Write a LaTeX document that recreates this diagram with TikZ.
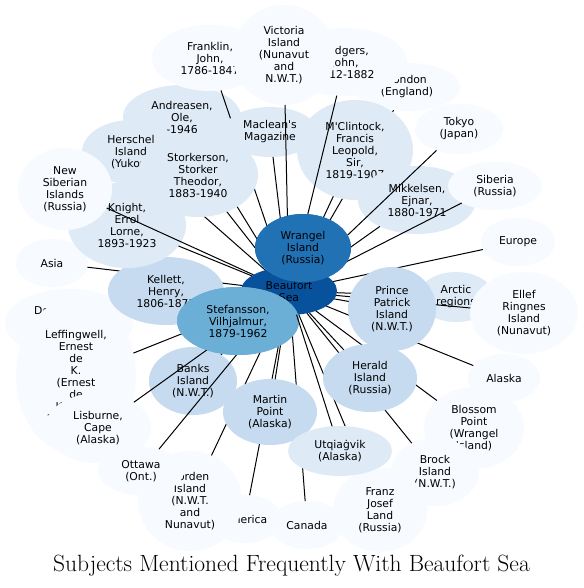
\documentclass[tikz,border=0pt]{standalone}
\usepackage{fontspec}
\newfontfamily\bubfont{DejaVu Sans}
\usetikzlibrary{shapes.geometric}
\definecolor{c0}{HTML}{F7FBFF}
\definecolor{c1}{HTML}{DEEBF7}
\definecolor{c2}{HTML}{C6DBEF}
\definecolor{c3}{HTML}{6BAED6}
\definecolor{c4}{HTML}{2171B5}
\definecolor{c5}{HTML}{08519C}
\tikzset{
  bub/.style={ellipse, inner sep=0pt, outer sep=0pt, draw=none},
  txt/.style={font=\bubfont\fontsize{10.8}{12}\selectfont, align=center, inner sep=0pt, text=black},
  edgeline/.style={draw=black, line width=1pt},
  titletext/.style={font=\fontsize{23.5}{26}\selectfont, inner sep=0pt}
}
\newcommand\bnode[7]{%
  \node[bub, minimum width={2*#4pt}, minimum height={2*#5pt}, fill=#6] (#1) at (#2,#3) {};
  \node[txt] (#1-t) at (#1.center) {#7};}
\newcommand\bedge[1]{\draw[edgeline] (bf) -- (#1);}
\begin{document}
\begin{tikzpicture}[x=1pt,y=-1pt]
\useasboundingbox (0,0) rectangle (583,588);
\fill[white] (0,0) rectangle (583,588);
\bnode{al}{504}{378}{36}{24}{c0}{Alaska}
\bnode{bf}{289}{291}{48}{24}{c5}{Beaufort\\Sea}
\bedge{al}
\bnode{am}{245}{519}{37}{24}{c0}{America}\bedge{am}
\bnode{an}{182}{117}{59}{32}{c1}{Andreasen,\\Ole,\\-1946}\bedge{an}
\bnode{ar}{456}{297}{38}{25}{c1}{Arctic\\regions}\bedge{ar}
\bnode{as}{52}{263}{36}{24}{c0}{Asia}\bedge{as}
\bnode{ba}{193}{381}{44}{34}{c2}{Banks\\Island\\(N.W.T.)}\bedge{ba}
\bnode{bl}{474}{428}{50}{41}{c0}{Blossom\\Point\\(Wrangel\\Island)}\bedge{bl}
\bnode{bo}{190}{501}{52}{50}{c0}{Borden\\Island\\(N.W.T.\\and\\Nunavut)}\bedge{bo}
\bnode{br}{435}{472}{44}{34}{c0}{Brock\\Island\\(N.W.T.)}\bedge{br}
\bnode{ca}{307}{525}{37}{24}{c0}{Canada}\bedge{ca}
\bnode{de}{69}{323}{64}{34}{c0}{Demarcation\\Point\\(Alaska)}\bedge{de}
\bnode{el}{524}{313}{54}{41}{c0}{Ellef\\Ringnes\\Island\\(Nunavut)}\bedge{el}
\bnode{eu}{518}{242}{37}{24}{c0}{Europe}\bedge{eu}
\bnode{fr}{210}{58}{58}{33}{c0}{Franklin,\\John,\\1786-1847}\bedge{fr}
\bnode{fj}{380}{510}{47}{42}{c0}{Franz\\Josef\\Land\\(Russia)}\bedge{fj}
\bnode{he}{370}{378}{47}{34}{c2}{Herald\\Island\\(Russia)}\bedge{he}
\bnode{hs}{131}{152}{49}{32}{c1}{Herschel\\Island\\(Yukon)}\bedge{hs}
\bnode{ke}{166}{291}{58}{34}{c2}{Kellett,\\Henry,\\1806-1875}\bedge{ke}
\bnode{kn}{127}{225}{59}{43}{c1}{Knight,\\Errol\\Lorne,\\1893-1923}\bedge{kn}
\bnode{le}{76}{376}{60}{78}{c0}{Leffingwell,\\Ernest\\de\\K.\\(Ernest\\de\\Koven),\\1875-1971}\bedge{le}
\bnode{li}{98}{428}{53}{35}{c0}{Lisburne,\\Cape\\(Alaska)}\bedge{li}
\bnode{lo}{407}{87}{53}{24}{c0}{London\\(England)}\bedge{lo}
\bnode{mc}{355}{150}{58}{50}{c1}{M'Clintock,\\Francis\\Leopold,\\Sir,\\1819-1907}\bedge{mc}
\bnode{ma}{270}{132}{47}{25}{c1}{Maclean's\\Magazine}\bedge{ma}
\bnode{mp}{270}{412}{47}{33}{c2}{Martin\\Point\\(Alaska)}\bedge{mp}
\bnode{mi}{417}{200}{59}{34}{c1}{Mikkelsen,\\Ejnar,\\1880-1971}\bedge{mi}
\bnode{ns}{65}{189}{47}{41}{c0}{New\\Siberian\\Islands\\(Russia)}\bedge{ns}
\bnode{ot}{141}{471}{43}{24}{c0}{Ottawa\\(Ont.)}\bedge{ot}
\bnode{pp}{392}{309}{44}{42}{c2}{Prince\\Patrick\\Island\\(N.W.T.)}\bedge{pp}
\bnode{ro}{345}{62}{62}{34}{c0}{Rodgers,\\John,\\1812-1882}\bedge{ro}
\bnode{si}{495}{186}{47}{24}{c0}{Siberia\\(Russia)}\bedge{si}
\bnode{st}{238}{321}{61}{34}{c3}{Stefansson,\\Vilhjalmur,\\1879-1962}\bedge{st}
\bnode{st}{238}{321}{61}{34}{c3}{Stefansson,\\Vilhjalmur,\\1879-1962}
\bnode{sk}{198}{175}{60}{42}{c1}{Storkerson,\\Storker\\Theodor,\\1883-1940}\bedge{sk}
\bnode{to}{459}{129}{44}{25}{c0}{Tokyo\\(Japan)}\bedge{to}
\bnode{ut}{340}{451}{52}{25}{c1}{Utqiaġvik\\(Alaska)}\bedge{ut}
\bnode{vi}{284}{55}{51}{50}{c0}{Victoria\\Island\\(Nunavut\\and\\N.W.T.)}\bedge{vi}
\bnode{wr}{303}{248}{48}{34}{c4}{Wrangel\\Island\\(Russia)}\bedge{wr}
\bnode{wr}{303}{248}{48}{34}{c4}{Wrangel\\Island\\(Russia)}
\node[titletext] (title) at (291.5,566) {Subjects Mentioned Frequently With Beaufort Sea};
\end{tikzpicture}
\end{document}
